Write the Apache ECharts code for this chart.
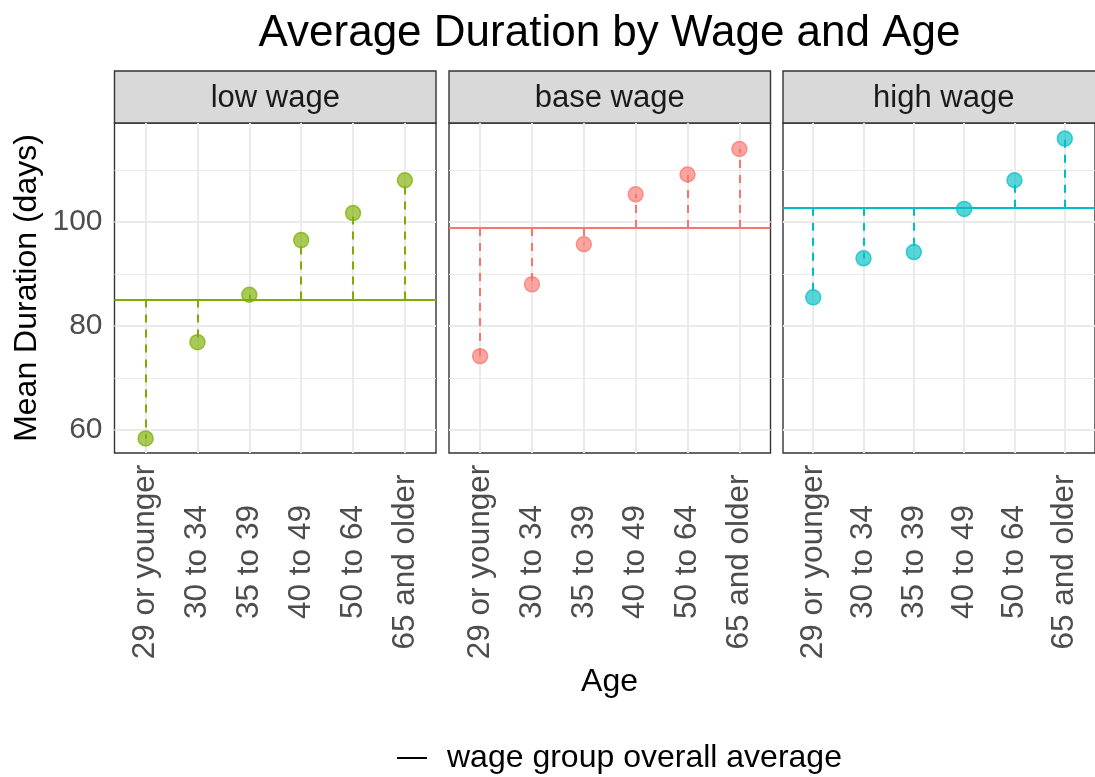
<!DOCTYPE html>
<html>
<head>
<meta charset="utf-8">
<script src="https://cdn.jsdelivr.net/npm/echarts@6/dist/echarts.min.js"></script>
<style>
  html, body { margin: 0; padding: 0; background: #fff; }
  #chart { width: 1095px; height: 777px; }
</style>
</head>
<body>
<div id="chart"></div>
<script>
// --- data ---
const ageGroups = ['29 or younger', '30 to 34', '35 to 39', '40 to 49', '50 to 64', '65 and older'];
const wageGroups = ['low wage', 'base wage', 'high wage'];
const wageColors = ['#7CAE00', '#F8766D', '#00BFC4'];
const lowWage = [58.4, 76.9, 86.0, 96.5, 101.7, 108.0];
const baseWage = [74.2, 88.0, 95.7, 105.3, 109.1, 114.0];
const highWage = [85.5, 93.0, 94.2, 102.5, 108.0, 116.0];
const groupAverages = [85.1, 98.85, 102.7];
const yMajorTicks = [60, 80, 100];
const yMinorTicks = [70, 90, 110];
const yRange = [55.6, 119.0];
const legendLabel = 'wage group overall average';

const panelValues = [lowWage, baseWage, highWage];
const ageIndex = ageGroups.map((_, i) => i);

// facet layout (ggplot-like)
const FONT = 'Liberation Sans, Arial, sans-serif';
const panelLeft = [114.5, 449, 783];
const panelWidth = 321.5;
const panelTop = 123;
const panelHeight = 330;
const stripHeight = 52;

function rgba(hex, a) {
  const n = parseInt(hex.slice(1), 16);
  return `rgba(${(n >> 16) & 255},${(n >> 8) & 255},${n & 255},${a})`;
}

const chart = echarts.init(document.getElementById('chart'));

const grids = [], xAxes = [], yAxes = [], series = [], graphics = [];

wageGroups.forEach((wage, k) => {
  grids.push({
    left: panelLeft[k], top: panelTop, width: panelWidth, height: panelHeight,
    show: true, borderColor: '#333333', borderWidth: 1.4, backgroundColor: '#fff'
  });

  // rotated labels are centred on a common line, like ggplot's hjust = 0.5
  xAxes.push({
    type: 'value', gridIndex: k, min: -0.6, max: 5.6,
    axisLine: { show: false },
    axisTick: { show: false, customValues: ageIndex },
    axisLabel: {
      customValues: ageIndex,
      formatter: v => ageGroups[Math.round(v)],
      rotate: 90, margin: 109, align: 'center', verticalAlign: 'middle',
      fontSize: 31.5, color: '#4D4D4D', fontFamily: FONT
    },
    splitLine: { show: true, lineStyle: { color: '#EBEBEB', width: 2 } }
  });

  // major y grid + labels
  yAxes.push({
    type: 'value', gridIndex: k, min: yRange[0], max: yRange[1],
    axisLine: { show: false },
    axisTick: { show: false, customValues: yMajorTicks },
    axisLabel: {
      show: k === 0, customValues: yMajorTicks, margin: 12,
      fontSize: 30, color: '#4D4D4D', fontFamily: FONT
    },
    splitLine: { show: true, lineStyle: { color: '#EBEBEB', width: 2 } }
  });
});

// minor y grid lines, one extra axis per panel
wageGroups.forEach((wage, k) => {
  yAxes.push({
    type: 'value', gridIndex: k, min: yRange[0], max: yRange[1],
    axisLine: { show: false },
    axisTick: { show: false, customValues: yMinorTicks },
    axisLabel: { show: false, customValues: yMinorTicks },
    splitLine: { show: true, lineStyle: { color: '#EBEBEB', width: 1 } }
  });
});

wageGroups.forEach((wage, k) => {
  const vals = panelValues[k];
  const avg = groupAverages[k];
  const col = wageColors[k];

  // average line + dashed drops
  series.push({
    name: legendLabel,
    type: 'line',
    xAxisIndex: k, yAxisIndex: k,
    data: [],
    color: '#000',
    z: 2,
    markLine: {
      silent: true,
      symbol: ['none', 'none'],
      label: { show: false },
      animation: false,
      data: [
        { yAxis: avg, lineStyle: { color: col, width: 2, type: 'solid' } }
      ].concat(vals.map((v, i) => [
        { coord: [i, avg], lineStyle: { color: col, width: 2, type: [8, 7] } },
        { coord: [i, v] }
      ]))
    }
  });

  series.push({
    name: wage,
    type: 'scatter',
    xAxisIndex: k, yAxisIndex: k,
    symbolSize: 15,
    z: 3,
    itemStyle: { color: rgba(col, 0.82), borderColor: rgba(col, 0.9), borderWidth: 1.5 },
    data: vals.map((v, i) => [i, v])
  });

  // facet strip
  graphics.push({
    type: 'rect',
    shape: { x: panelLeft[k], y: panelTop - stripHeight, width: panelWidth, height: stripHeight },
    style: { fill: '#D9D9D9', stroke: '#333333', lineWidth: 1.4 }
  });
  graphics.push({
    type: 'text',
    x: panelLeft[k] + panelWidth / 2, y: panelTop - stripHeight / 2 + 1,
    style: { text: wage, fill: '#1A1A1A', font: `31px ${FONT}`, textAlign: 'center', textVerticalAlign: 'middle' }
  });
});

const plotCenter = (panelLeft[0] + panelLeft[2] + panelWidth) / 2;

graphics.push({
  type: 'text', x: plotCenter, y: 34,
  style: { text: 'Average Duration by Wage and Age', fill: '#000', font: `44px ${FONT}`, textAlign: 'center', textVerticalAlign: 'middle' }
});
graphics.push({
  type: 'text', x: 27, y: panelTop + panelHeight / 2, rotation: Math.PI / 2,
  style: { text: 'Mean Duration (days)', fill: '#000', font: `32px ${FONT}`, textAlign: 'center', textVerticalAlign: 'middle' }
});
graphics.push({
  type: 'text', x: plotCenter, y: 682,
  style: { text: 'Age', fill: '#000', font: `32px ${FONT}`, textAlign: 'center', textVerticalAlign: 'middle' }
});

chart.setOption({
  animation: false,
  grid: grids,
  xAxis: xAxes,
  yAxis: yAxes,
  series: series,
  legend: {
    left: 397, top: 742, padding: 0,
    icon: 'rect', itemWidth: 30, itemHeight: 2,
    data: [{ name: legendLabel, itemStyle: { color: '#000' } }],
    textStyle: { fontSize: 32, color: '#000', fontFamily: FONT, padding: [0, 0, 0, 15] }
  },
  graphic: graphics
});
</script>
</body>
</html>
